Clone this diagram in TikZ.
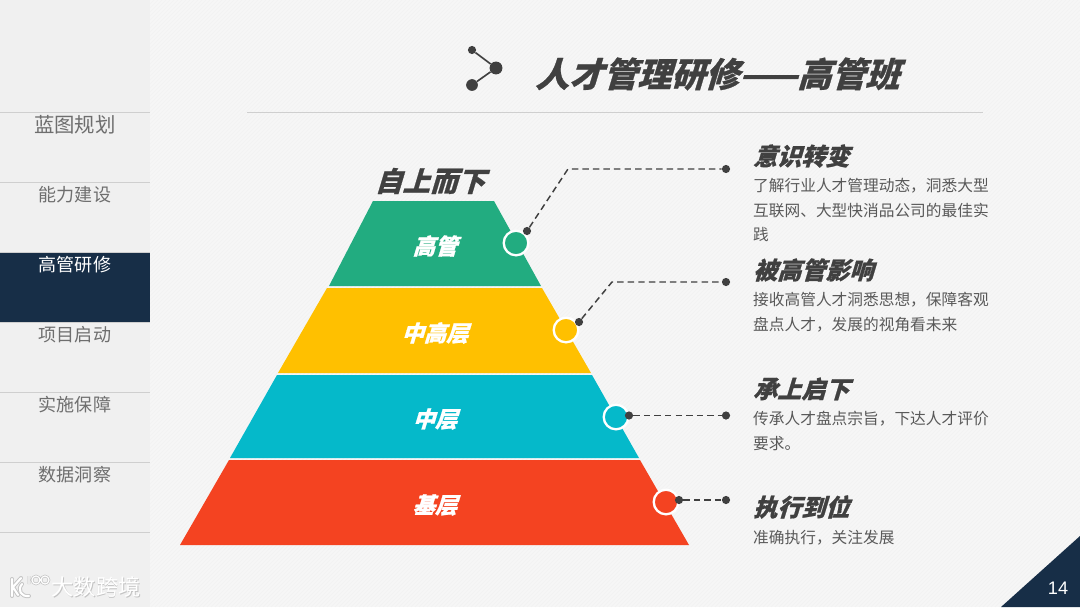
\documentclass[tikz,border=0pt]{standalone}
\usepackage{fontspec}
\usepackage{xcolor}
\usetikzlibrary{positioning,calc}
\setmainfont{Liberation Sans}
\newfontfamily\cjk{Noto Sans CJK SC}
\newfontfamily\cjkhead{Noto Sans CJK SC}[BoldFeatures={FakeSlant=0.3,FakeBold=0.8}]
\definecolor{paperbg}{HTML}{F6F6F6}
\definecolor{hatch}{HTML}{F2F2F2}
\definecolor{sidebg}{HTML}{F0F0F0}
\definecolor{navy}{HTML}{172E47}
\definecolor{ink}{HTML}{404040}
\definecolor{inkgray}{HTML}{595959}
\definecolor{navgray}{HTML}{6E6E6E}
\definecolor{rulegray}{HTML}{CFCFCF}
\definecolor{halogray}{HTML}{C4C4C4}
\definecolor{layergreen}{HTML}{22AC80}
\definecolor{layeryellow}{HTML}{FFC000}
\definecolor{layerteal}{HTML}{05B9CA}
\definecolor{layerred}{HTML}{F44321}
\tikzset{
  navlabel/.style={font=\fontsize{15.4}{18}\cjk,text=navgray,inner sep=0pt},
  layerlabel/.style={font=\fontsize{19}{22}\cjkhead\bfseries,text=white,inner sep=0pt},
  headlabel/.style={font=\fontsize{20.5}{24}\cjkhead\bfseries,text=ink,anchor=west,inner sep=0pt},
  bodylabel/.style={font=\fontsize{13.4}{21}\cjk,text=inkgray,anchor=north west,align=left,inner sep=0pt},
  marker/.style={circle,draw=white,line width=2pt,minimum size=21pt,inner sep=0pt},
  enddot/.style={circle,fill=ink,minimum size=7pt,inner sep=0pt},
  leader/.style={ink,line width=1.25pt,dash pattern=on 5.5pt off 3.5pt},
  iconline/.style={ink,line width=1.4pt}
}
\begin{document}
\begin{tikzpicture}[x=0.03cm,y=-0.03cm]
  \useasboundingbox (0,0) rectangle (1080,607);
  \fill[paperbg] (0,0) rectangle (1080,607);
  \begin{scope}
    \clip (150,0) rectangle (1080,607);
    \foreach \k in {150,154,...,1690}
      \draw[hatch,line width=0.5pt] (\k,0) -- ++(-607,607);
  \end{scope}
  % side menu
  \fill[sidebg] (0,0) rectangle (150,607);
  \fill[navy] (0,253) rectangle (150,322);
  \foreach \y in {112,182,252,322,392,462,532}
    \draw[rulegray,line width=0.8pt] (0,\y) -- (150,\y);
  \node[navlabel,font=\fontsize{17.4}{20}\cjk] (nava) at (75,125) {蓝图规划};
  \node[navlabel] (navb) at (75,195) {能力建设};
  \node[navlabel,text=white] (navc) at (75,265) {高管研修};
  \node[navlabel] (navd) at (75,335) {项目启动};
  \node[navlabel] (nave) at (75,405) {实施保障};
  \node[navlabel] (navf) at (75,475) {数据洞察};
  % logo
  \foreach \col/\wid in {halogray/3.4pt,white/1.8pt} {
    \draw[\col,line width=\wid,line cap=round] (12,579) -- (12,596) (21,578) -- (13,587) -- (18,595);
    \draw[\col,line width=\wid,line cap=round] (22,584) .. controls (17,590) and (21,597) .. (29,596);
  }
  \foreach \col/\wid in {halogray/2.2pt,white/1pt}
    \draw[\col,line width=\wid] (29,576) -- (29,584) (36,580) circle (4) (45,580) circle (4);
  \node[font=\fontsize{19}{22}\cjk,text=halogray,inner sep=0pt] (logoshadow) at (96.8,587.8) {大数跨境};
  \node[font=\fontsize{19}{22}\cjk,text=white,inner sep=0pt] (logotext) at (96,587) {大数跨境};
  % title
  \node[enddot] (icona) at (472,50) {};
  \node[enddot,minimum size=11pt] (iconb) at (496,68) {};
  \node[enddot,minimum size=10pt] (iconc) at (472,85) {};
  \draw[iconline] (icona) -- (iconb) -- (iconc);
  \node[font=\fontsize{29}{32}\cjkhead\bfseries,text=ink,anchor=west,inner sep=0pt] (title) at (535,74) {人才管理研修——高管班};
  \draw[rulegray,line width=0.8pt] (247,112) -- (983,112);
  % pyramid
  \fill[layergreen] (373,201) -- (494,201) -- (541,286) -- (329,286) -- cycle;
  \fill[layeryellow] (327,288) -- (542,288) -- (591,373) -- (278,373) -- cycle;
  \fill[layerteal] (277,375) -- (592,375) -- (639,458) -- (230,458) -- cycle;
  \fill[layerred] (229,460) -- (640,460) -- (689,545) -- (180,545) -- cycle;
  \node[font=\fontsize{23.5}{26}\cjkhead\bfseries,text=ink,inner sep=0pt] (toplabel) at (430,181) {自上而下};
  \node[layerlabel] (layera) at (435,246) {高管};
  \node[layerlabel] (layerb) at (435,333) {中高层};
  \node[layerlabel] (layerc) at (435,419) {中层};
  \node[layerlabel] (layerd) at (435,505) {基层};
  % markers
  \node[marker,fill=layergreen] (marka) at (516,243) {};
  \node[marker,fill=layeryellow] (markb) at (566,330) {};
  \node[marker,fill=layerteal] (markc) at (616,417) {};
  \node[marker,fill=layerred] (markd) at (666,502) {};
  % leaders
  \node[enddot] (starta) at (527,231) {};
  \coordinate (benda) at (568,169);
  \node[enddot] (enda) at (726,169) {};
  \draw[leader] (starta) -- (benda) -- (enda);
  \node[enddot] (startb) at (579,322) {};
  \coordinate (bendb) at (612,282);
  \node[enddot] (endb) at (726,282) {};
  \draw[leader] (startb) -- (bendb) -- (endb);
  \node[enddot] (startc) at (629,415.5) {};
  \node[enddot] (endc) at (726,415.5) {};
  \draw[leader] (startc) -- (endc);
  \node[enddot] (startd) at (679,500) {};
  \node[enddot] (endd) at (726,500) {};
  \draw[leader] (startd) -- (endd);
  % right hand texts
  \node[headlabel] (heada) at (753,156) {意识转变};
  \node[bodylabel] (bodya) at (753,178) {了解行业人才管理动态，洞悉大型\\互联网、大型快消品公司的最佳实\\践};
  \node[headlabel] (headb) at (753,270) {被高管影响};
  \node[bodylabel] (bodyb) at (753,292) {接收高管人才洞悉思想，保障客观\\盘点人才，发展的视角看未来};
  \node[headlabel] (headc) at (753,389) {承上启下};
  \node[bodylabel] (bodyc) at (753,411) {传承人才盘点宗旨，下达人才评价\\要求。};
  \node[headlabel] (headd) at (753,507) {执行到位};
  \node[bodylabel] (bodyd) at (753,530) {准确执行，关注发展};
  % page corner
  \fill[navy] (1080,536) -- (1080,607) -- (1001,607) -- cycle;
  \node[font=\fontsize{15.5}{18}\selectfont,text=white,inner sep=0pt] (pagenum) at (1058,588) {14};
\end{tikzpicture}
\end{document}
